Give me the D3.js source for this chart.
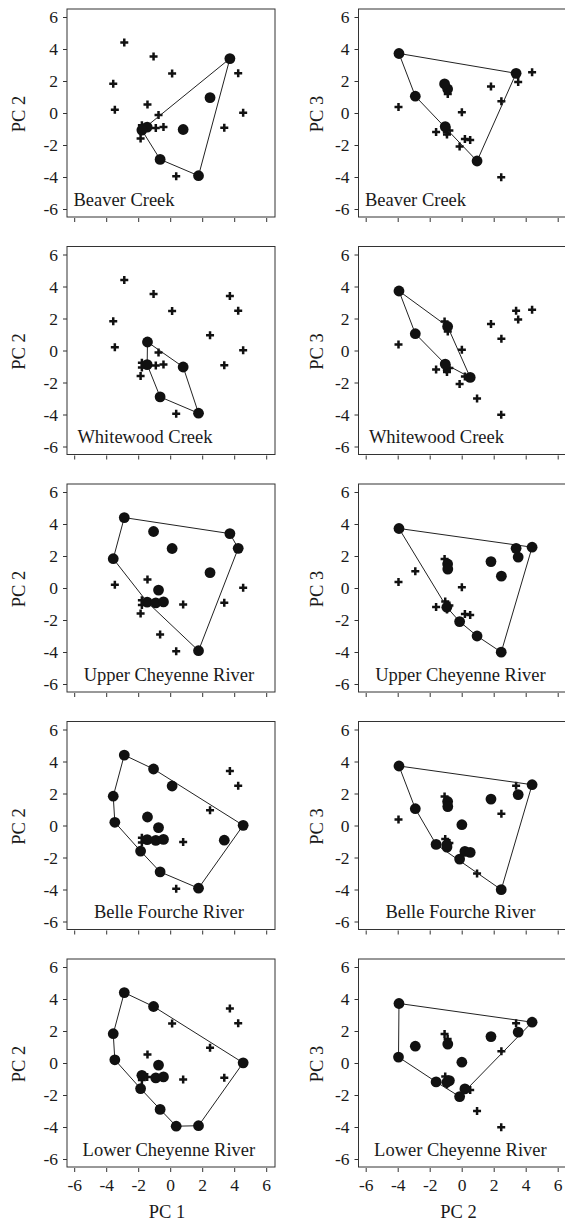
<!DOCTYPE html>
<html>
<head>
<meta charset="utf-8">
<script src="https://cdn.jsdelivr.net/npm/d3@7"></script>
<style>
  body { margin: 0; background: #fff; }
  svg { display: block; }
</style>
</head>
<body>
<svg id="chart" width="565" height="1227"></svg>
<script>
// Species scores on the first three principal components
const speciesIds = ["A","B","C","D","E","T","F","G","Q","R","S","U","M","H","I1","I2","J","K","L","N","O","P"];
const pc1 = [-2.87,-1.04, 0.12,-3.56,-3.46, 4.56,-1.42,-0.73, 3.73, 4.25, 2.49, 3.38, 0.81,-1.44,-1.77,-1.77,-0.90,-0.42,-1.85,-0.63, 0.375, 1.77];
const pc2 = [ 4.40, 3.53, 2.47, 1.83, 0.20, 0.01, 0.53,-0.13, 3.40, 2.48, 0.96,-0.92,-1.03,-0.88,-1.07,-0.77,-0.93,-0.87,-1.60,-2.90,-3.95,-3.92];
const pc3 = [ 2.55, 1.93,-4.01, 1.65,-1.62, 0.05,-1.68,-2.10, 2.48, 0.74,-3.00,-1.35,-0.85, 1.50, 1.82,-1.10,-1.20, 1.18,-1.18, 1.05, 0.37, 3.72];

// Rivers and species occurrence (1 = present), aligned with speciesIds
const rivers = ["Beaver Creek","Whitewood Creek","Upper Cheyenne River","Belle Fourche River","Lower Cheyenne River"];
const beaverCreek     = [0,0,0,0,0,0,0,0,1,0,1,0,1,1,1,0,0,0,0,1,0,1];
const whitewoodCreek  = [0,0,0,0,0,0,1,0,0,0,0,0,1,1,0,0,0,0,0,1,0,1];
const upperCheyenne   = [1,1,1,1,0,0,0,1,1,1,1,0,0,1,0,0,1,1,0,0,0,1];
const belleFourche    = [1,1,1,1,1,1,1,1,0,0,0,1,0,1,0,0,1,1,1,1,0,1];
const lowerCheyenne   = [1,1,0,1,1,1,0,1,0,0,0,0,0,0,0,1,1,1,1,1,1,1];
const presence = [beaverCreek, whitewoodCreek, upperCheyenne, belleFourche, lowerCheyenne];

const tickValues = [-6,-4,-2,0,2,4,6];
const columnAxes = [["PC 1","PC 2"],["PC 2","PC 3"]];

// ---- layout ----
const panelSize = 208;
const colX = [67, 358.5];
const rowTop = d3.range(5).map(i => 9 + i * 237.5);
const titlePlacement = [
  {x: -6.05, anchor: "start"},
  {x: -5.80, anchor: "start"},
  {x: -0.08, anchor: "middle"},
  {x: -0.08, anchor: "middle"},
  {x: -0.08, anchor: "middle"}
];
const yLabelX = [25, 323];
const serif = "'Liberation Serif', 'Times New Roman', serif";
const ink = "#1a1a1a";

const x = d3.scaleLinear().domain([-6.45, 6.55]).range([0, panelSize]);
const y = d3.scaleLinear().domain([-6.5, 6.5]).range([panelSize, 0]);
const fmt = d => d < 0 ? "-" + Math.abs(d) : String(d);

const svg = d3.select("#chart");

const species = speciesIds.map((id, i) => ({id, pc1: pc1[i], pc2: pc2[i], pc3: pc3[i]}));
const coordSets = [d => [d.pc1, d.pc2], d => [d.pc2, d.pc3]];

rivers.forEach((river, r) => {
  const isLast = r === rivers.length - 1;
  [0, 1].forEach(c => {
    const g = svg.append("g").attr("transform", `translate(${colX[c]},${rowTop[r]})`);
    const pts = species.map((s, i) => {
      const [vx, vy] = coordSets[c](s);
      return {px: x(vx), py: y(vy), present: presence[r][i] === 1};
    });

    // frame
    g.append("rect")
      .attr("width", panelSize).attr("height", panelSize)
      .attr("fill", "none").attr("stroke", "#333").attr("stroke-width", 1);

    // y axis
    const ya = g.append("g").call(
      d3.axisLeft(y).tickValues(tickValues).tickSize(4).tickPadding(5).tickFormat(fmt));
    ya.select(".domain").remove();
    ya.selectAll("line").attr("stroke", "#333");
    ya.selectAll("text").attr("font-family", serif).attr("font-size", 17.5).attr("fill", ink);

    // x axis
    const xa = g.append("g").attr("transform", `translate(0,${panelSize + 1})`).call(
      d3.axisBottom(x).tickValues(tickValues).tickSize(4).tickPadding(7)
        .tickFormat(isLast ? fmt : () => ""));
    xa.select(".domain").remove();
    xa.selectAll("line").attr("stroke", "#333");
    xa.selectAll("text").attr("font-family", serif).attr("font-size", 17.5).attr("fill", ink);

    // species absent from this river
    g.append("g").selectAll("path")
      .data(pts.filter(p => !p.present))
      .join("path")
      .attr("d", p => `M${p.px - 4},${p.py}H${p.px + 4}M${p.px},${p.py - 4}V${p.py + 4}`)
      .attr("stroke", "#111").attr("stroke-width", 2.5).attr("fill", "none");

    // convex hull of species present
    const present = pts.filter(p => p.present);
    const hull = d3.polygonHull(present.map(p => [p.px, p.py]));
    if (hull) {
      g.append("path")
        .attr("d", "M" + hull.map(p => p.join(",")).join("L") + "Z")
        .attr("fill", "none").attr("stroke", "#222").attr("stroke-width", 1);
    }

    // species present
    g.append("g").selectAll("circle")
      .data(present)
      .join("circle")
      .attr("cx", p => p.px).attr("cy", p => p.py).attr("r", 5.4)
      .attr("fill", "#111");

    // river name
    g.append("text")
      .attr("x", x(titlePlacement[r].x)).attr("y", 196.5)
      .attr("text-anchor", titlePlacement[r].anchor)
      .attr("font-family", serif).attr("font-size", 18.5).attr("fill", ink)
      .text(river);

    // y axis title
    svg.append("text")
      .attr("transform", `translate(${yLabelX[c]},${rowTop[r] + panelSize / 2 + 1}) rotate(-90)`)
      .attr("text-anchor", "middle")
      .attr("font-family", serif).attr("font-size", 18.5).attr("fill", ink)
      .text(columnAxes[c][1]);

    // x axis title (bottom row only)
    if (isLast) {
      svg.append("text")
        .attr("x", colX[c] + x(-0.2)).attr("y", rowTop[r] + panelSize + 51)
        .attr("text-anchor", "middle")
        .attr("font-family", serif).attr("font-size", 18.5).attr("fill", ink)
        .text(columnAxes[c][0]);
    }
  });
});
</script>
</body>
</html>
